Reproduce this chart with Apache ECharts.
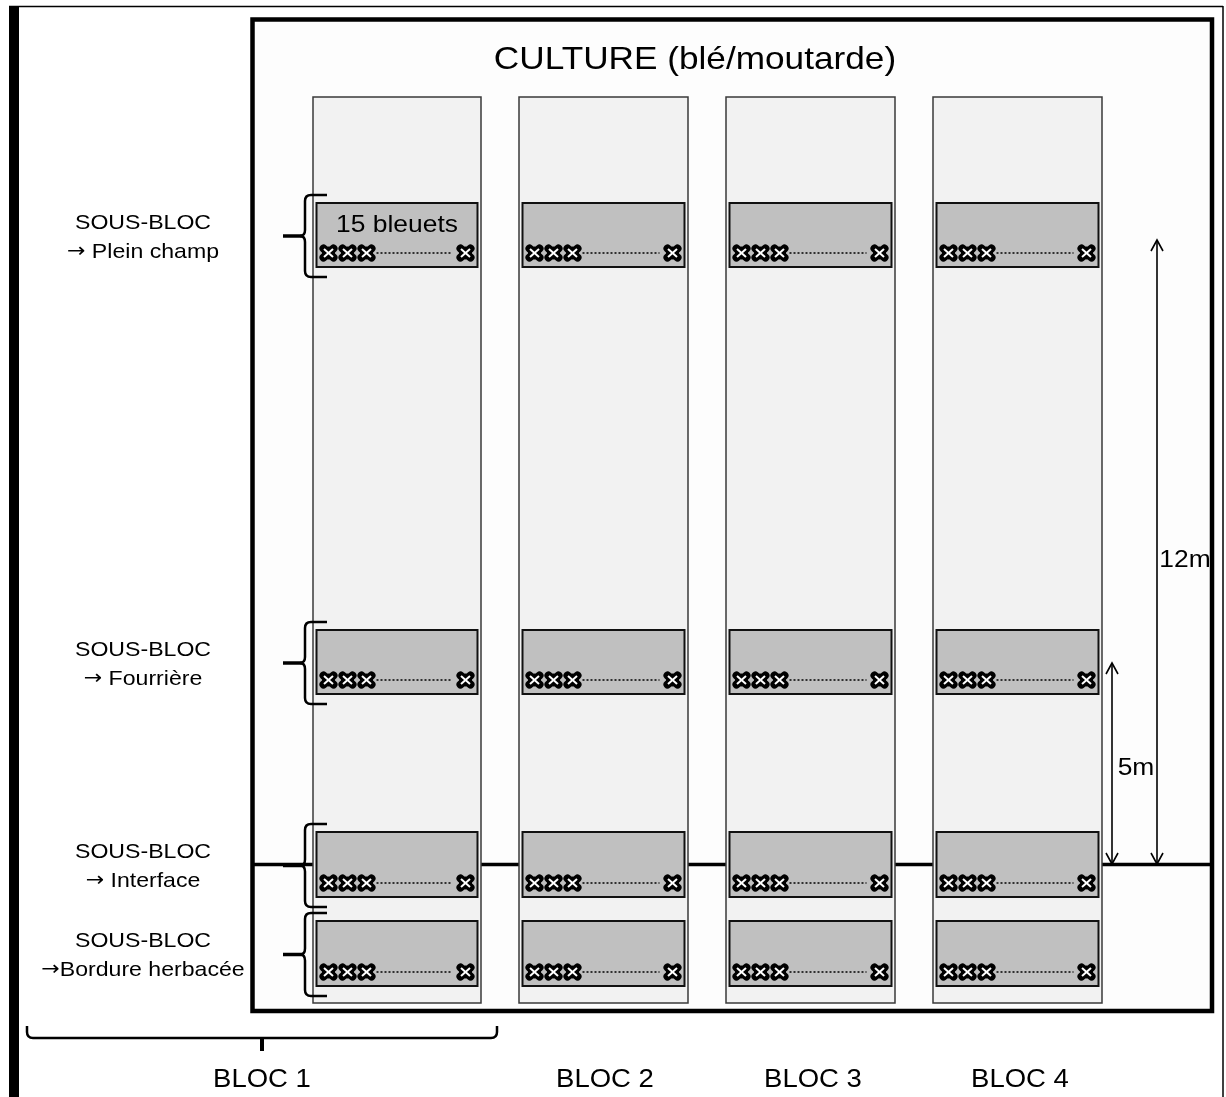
<!DOCTYPE html>
<html>
<head>
<meta charset="utf-8">
<title>Dispositif expérimental - blocs et sous-blocs</title>
<script src="https://cdn.jsdelivr.net/npm/echarts@6/dist/echarts.min.js"></script>
<style>
html, body { margin: 0; padding: 0; background: #fff; }
#chart { width: 1226px; height: 1097px; }
</style>
</head>
<body>
<div id="chart"></div>
<script>
// Schéma du dispositif, en unités du plan (axes cachés 0..1226 x 0..1097)
const blocs = ['BLOC 1', 'BLOC 2', 'BLOC 3', 'BLOC 4'];
const blocLeft = [313, 519, 726, 933];
const blocRight = [481, 688, 895, 1102];
const blocLabelX = [262, 605, 813, 1020];

const sousBlocs = ['Plein champ', 'Fourrière', 'Interface', 'Bordure herbacée'];
const sousBlocTop = [203, 630, 832, 921];
const sousBlocBottom = [267, 694, 897, 986];

const distLabels = ['12m', '5m'];
const distX = [1157, 1112];
const distFrom = [240, 663];
const distTo = [864, 864];
const distLabelY = [560, 768];

const nbBleuets = 15;
const titre = 'CULTURE (blé/moutarde)';

const FONT = 'Arial, "Liberation Sans", sans-serif';
const STRETCH = 1.1; // le texte de la figure est un peu étiré en largeur

const chart = echarts.init(document.getElementById('chart'));

function txt(p, text, size, rich) {
  const el = {
    type: 'text', x: p[0], y: p[1], scaleX: STRETCH,
    style: {
      text: text, x: 0, y: 0, font: size + 'px ' + FONT, fill: '#000',
      align: 'center', verticalAlign: 'middle',
      textAlign: 'center', textVerticalAlign: 'middle'
    }
  };
  if (rich) el.style.rich = rich;
  return el;
}

function seg(a, b, w, extra) {
  return {
    type: 'line',
    shape: { x1: a[0], y1: a[1], x2: b[0], y2: b[1] },
    style: Object.assign({ stroke: '#000', lineWidth: w }, extra || {})
  };
}

// bleuet = croix blanche sur fond noir
function bleuet(p) {
  const [x, y] = p;
  return [
    seg([x - 5, y - 4.5], [x + 5, y + 4.5], 8, { lineCap: 'round' }),
    seg([x - 5, y + 4.5], [x + 5, y - 4.5], 8, { lineCap: 'round' }),
    { type: 'circle', shape: { cx: x, cy: y, r: 6.5 }, style: { fill: '#000' } },
    seg([x - 4.5, y - 4], [x + 4.5, y + 4], 2, { stroke: '#fff' }),
    seg([x - 4.5, y + 4], [x + 4.5, y - 4], 2, { stroke: '#fff' })
  ];
}

const series = [];

// cadre général, champ cultivé, ligne d'interface, titre
series.push({
  type: 'custom', silent: true, clip: false,
  data: [[0, 0]],
  renderItem: function (params, api) {
    const c = (x, y) => api.coord([x, y]);
    const tl = c(252.5, 19.5), br = c(1212, 1011);
    return {
      type: 'group',
      children: [
        { type: 'rect', shape: { x: c(9, 6)[0], y: c(9, 6)[1], width: 10, height: 1091 }, style: { fill: '#000' } },
        seg(c(9, 6.5), c(1223, 6.5), 1.5),
        seg(c(1223, 6), c(1223, 1097), 1.5),
        { type: 'rect', shape: { x: tl[0], y: tl[1], width: br[0] - tl[0], height: br[1] - tl[1] },
          style: { fill: '#fdfdfd', stroke: '#000', lineWidth: 4.5 } },
        seg(c(252, 864.5), c(1212, 864.5), 3.5),
        txt(c(695, 60), titre, 32)
      ]
    };
  }
});

// bandes des blocs
series.push({
  type: 'custom', silent: true, clip: false,
  data: blocs.map((b, i) => [i, 0]),
  renderItem: function (params, api) {
    const i = api.value(0);
    const a = api.coord([blocLeft[i], 97]), b = api.coord([blocRight[i], 1003]);
    return {
      type: 'rect', shape: { x: a[0], y: a[1], width: b[0] - a[0], height: b[1] - a[1] },
      style: { fill: '#f2f2f2', stroke: '#3a3a3a', lineWidth: 1.5 }
    };
  }
});

// sous-blocs avec leurs bleuets
const cells = [];
blocs.forEach((b, i) => sousBlocs.forEach((s, j) => cells.push([i, j])));
series.push({
  type: 'custom', silent: true, clip: false,
  data: cells,
  renderItem: function (params, api) {
    const i = api.value(0), j = api.value(1);
    const x0 = blocLeft[i] + 3.5, x1 = blocRight[i] - 3.5;
    const y0 = sousBlocTop[j], y1 = sousBlocBottom[j];
    const a = api.coord([x0, y0]), b = api.coord([x1, y1]);
    const yc = y1 - 14;
    const children = [
      { type: 'rect', shape: { x: a[0], y: a[1], width: b[0] - a[0], height: b[1] - a[1] },
        style: { fill: '#c0c0c0', stroke: '#111', lineWidth: 2 } },
      seg(api.coord([x0 + 60, yc]), api.coord([x1 - 25, yc]), 1.5, { lineDash: [2, 2] })
    ];
    [x0 + 12, x0 + 31, x0 + 50, x1 - 12].forEach(x => {
      bleuet(api.coord([x, yc])).forEach(e => children.push(e));
    });
    if (i === 0 && j === 0) {
      children.push(txt(api.coord([(x0 + x1) / 2, y0 + 22]), nbBleuets + ' bleuets', 24));
    }
    return { type: 'group', children: children };
  }
});

// accolades et libellés des sous-blocs
const arrowRich = { a: { font: '20px "DejaVu Sans", sans-serif', fill: '#000' } };
series.push({
  type: 'custom', silent: true, clip: false,
  data: sousBlocs.map((s, j) => [j, 0]),
  renderItem: function (params, api) {
    const j = api.value(0);
    const yT = sousBlocTop[j] - 8, yB = sousBlocBottom[j] + 10, yM = (yT + yB) / 2;
    const p = (x, y) => api.coord([x, y]).join(' ');
    const d = 'M' + p(327, yT) + ' L' + p(311, yT) + ' Q' + p(305, yT) + ' ' + p(305, yT + 6) +
      ' L' + p(305, yM - 6) + ' Q' + p(305, yM) + ' ' + p(300, yM) +
      ' Q' + p(305, yM) + ' ' + p(305, yM + 6) + ' L' + p(305, yB - 6) +
      ' Q' + p(305, yB) + ' ' + p(311, yB) + ' L' + p(327, yB);
    const arrow = j === 3 ? '{a|→}' : '{a|→} ';
    return {
      type: 'group',
      children: [
        { type: 'path', shape: { pathData: d }, style: { fill: null, stroke: '#000', lineWidth: 2.5 } },
        seg(api.coord([283, yM]), api.coord([302, yM]), 3.5),
        txt(api.coord([143, sousBlocTop[j] + 20]), 'SOUS-BLOC', 21),
        txt(api.coord([143, sousBlocTop[j] + 49]), arrow + sousBlocs[j], 21, arrowRich)
      ]
    };
  }
});

// libellés des blocs, accolade sous le bloc 1
series.push({
  type: 'custom', silent: true, clip: false,
  data: blocs.map((b, i) => [i, 0]),
  renderItem: function (params, api) {
    const i = api.value(0);
    const children = [txt(api.coord([blocLabelX[i], 1080]), blocs[i], 25)];
    if (i === 0) {
      const p = (x, y) => api.coord([x, y]).join(' ');
      const d = 'M' + p(27, 1026) + ' L' + p(27, 1032) + ' Q' + p(27, 1038) + ' ' + p(33, 1038) +
        ' L' + p(491, 1038) + ' Q' + p(497, 1038) + ' ' + p(497, 1032) + ' L' + p(497, 1026);
      children.push({ type: 'path', shape: { pathData: d }, style: { fill: null, stroke: '#000', lineWidth: 2.5 } });
      children.push(seg(api.coord([blocLabelX[i], 1038]), api.coord([blocLabelX[i], 1051]), 4));
    }
    return { type: 'group', children: children };
  }
});

// cotes 12m et 5m
series.push({
  type: 'custom', silent: true, clip: false,
  data: distLabels.map((d, k) => [k, 0]),
  renderItem: function (params, api) {
    const k = api.value(0);
    const x = distX[k], y0 = distFrom[k], y1 = distTo[k];
    const c = (a, b) => api.coord([a, b]);
    const head = (pts) => ({ type: 'polyline', shape: { points: pts.map(q => c(q[0], q[1])) },
      style: { fill: null, stroke: '#000', lineWidth: 1.6 } });
    return {
      type: 'group',
      children: [
        seg(c(x, y0), c(x, y1), 1.6),
        head([[x - 6, y0 + 11], [x, y0], [x + 6, y0 + 11]]),
        head([[x - 6, y1 - 11], [x, y1], [x + 6, y1 - 11]]),
        txt(c(x + (k === 0 ? 28 : 24), distLabelY[k]), distLabels[k], 24)
      ]
    };
  }
});

chart.setOption({
  animation: false,
  backgroundColor: '#fff',
  grid: { left: 0, right: 0, top: 0, bottom: 0 },
  xAxis: { type: 'value', min: 0, max: 1226, show: false },
  yAxis: { type: 'value', min: 0, max: 1097, inverse: true, show: false },
  series: series
});
</script>
</body>
</html>
